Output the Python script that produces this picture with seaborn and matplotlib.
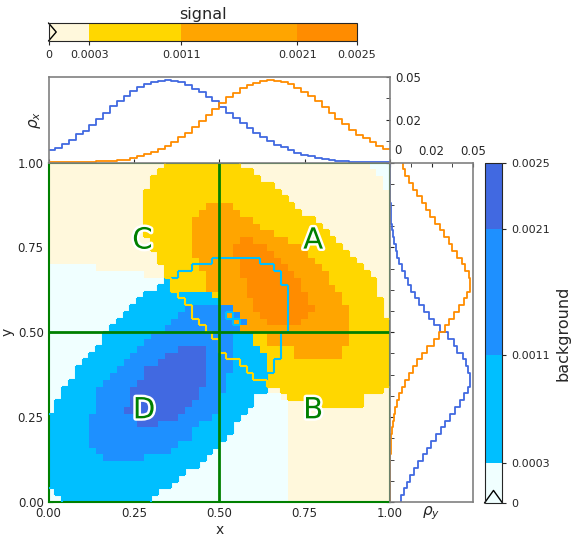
import numpy as np
import matplotlib
matplotlib.use("Agg")
import matplotlib.pyplot as plt
import matplotlib.patheffects as pe
from matplotlib.colors import ListedColormap, BoundaryNorm
from matplotlib.cm import ScalarMappable
from matplotlib.collections import LineCollection
from matplotlib.transforms import offset_copy
import seaborn as sns

# colours of the four density levels for each class
signal_colors = ["cornsilk", "gold", "orange", "darkorange"]
background_colors = ["azure", "deepskyblue", "dodgerblue", "royalblue"]

signal_levels = [0, 0.000332, 0.001076, 0.002015, 0.0025]
signal_level_labels = ["0", "0.0003", "0.0011", "0.0021", "0.0025"]
background_levels = [0, 0.000294, 0.001088, 0.002015, 0.0025]
background_level_labels = ["0", "0.0003", "0.0011", "0.0021", "0.0025"]

# level map, one run-length row per cell row (top first)
# c g o d = signal levels 0-3, w s b r = background levels 0-3
# upper case = the hidden class is also above its lowest level there
level_rows = [
    "c17 g11 c19 w3",
    "c16 g14 c18 w2",
    "c15 g16 c18 w1",
    "c15 g18 c16 w1",
    "c14 g20 c16",
    "c14 g21 c15",
    "c14 g9 o4 g9 c14",
    "c14 g8 o6 g9 c13",
    "c14 g7 o9 g9 c11",
    "c14 g7 o10 g9 c10",
    "c14 g7 o12 g8 c9",
    "c15 g6 o7 d2 o5 g7 c8",
    "c15 g6 o6 d5 o5 g6 c7",
    "c16 g5 o6 d6 o5 g6 c6",
    "c16 g6 o2 O4 D3 d3 o5 g6 c5",
    "w7 c10 g4 G1 O6 D5 d2 o5 g6 c4",
    "w14 c3 g2 G4 O5 D6 d2 o5 g6 c3",
    "w17 s1 G5 O6 D5 d3 o4 g7 c2",
    "w16 s2 G5 O6 D6 d2 o5 g6 c2",
    "w14 s5 S5 G1 O4 D6 d3 o5 g5 c2",
    "w13 s7 S5 O5 D5 d3 o5 g6 c1",
    "w12 s8 b1 B6 O3 D5 d4 o5 g5 c1",
    "w11 s8 b2 B5 o1 B1 O3 D4 d3 o6 g5 c1",
    "w10 s8 b4 B5 o1 B1 O3 D3 d2 o7 g6",
    "w9 s8 b6 B5 O7 o9 g6",
    "w8 s7 b9 B3 S3 G2 O2 o10 g6",
    "w8 s6 b11 B2 S3 G2 O2 o10 g6",
    "w7 s6 b6 r4 b2 B2 S4 G3 g2 o7 g7",
    "w6 s6 b5 r6 b3 B1 S5 G2 g2 o7 g7",
    "w5 s6 b5 r7 b4 s1 S4 G1 g17",
    "w4 s6 b4 r9 b4 s2 S3 G1 g17",
    "w4 s5 b5 r9 b3 s4 S2 g18",
    "w3 s5 b5 r10 b3 s6 g18",
    "w2 s5 b5 r10 b4 s6 c2 g15 c1",
    "w2 s5 b5 r10 b3 s5 w4 c1 g11 c4",
    "w1 s6 b5 r9 b4 s5 w5 c5 g6 c4",
    "w1 s6 b4 r9 b5 s4 w6 c15",
    "s6 b7 r6 b5 s4 w7 c15",
    "s6 b7 r3 b6 s5 w8 c15",
    "s6 b15 s6 w8 c15",
    "s6 b15 s5 w9 c15",
    "s6 b13 s6 w10 c15",
    "s7 b11 s6 w11 c15",
    "s8 b6 s9 w12 c15",
    "s22 w13 c15",
    "s20 w15 c15",
    "s19 w16 c15",
    "s18 w17 c15",
    "w1 s15 w19 c15",
    "w2 s13 w20 c15",
]

# marginal densities per bin of width 0.02 (bin 0 at x=0 / y=0)
rho_x_background = [
    0.0071, 0.0083, 0.0104, 0.0129, 0.0163, 0.0183, 0.0215, 0.0250, 0.0286, 0.0321,
    0.0354, 0.0379, 0.0407, 0.0432, 0.0450, 0.0461, 0.0469, 0.0471, 0.0469, 0.0461,
    0.0444, 0.0421, 0.0402, 0.0375, 0.0350, 0.0317, 0.0286, 0.0254, 0.0225, 0.0198,
    0.0171, 0.0146, 0.0123, 0.0102, 0.0086, 0.0069, 0.0056, 0.0044, 0.0035, 0.0027,
    0.0019, 0.0013, 0.0010, 0.0006, 0.0004, 0.0002, 0.0001, 0.0001, 0.0001, 0.0001,
]
rho_x_signal = [
    0.0001, 0.0001, 0.0002, 0.0002, 0.0003, 0.0004, 0.0005, 0.0006, 0.0008, 0.0010,
    0.0012, 0.0017, 0.0027, 0.0037, 0.0046, 0.0060, 0.0075, 0.0094, 0.0119, 0.0144,
    0.0171, 0.0206, 0.0240, 0.0273, 0.0306, 0.0340, 0.0373, 0.0398, 0.0425, 0.0444,
    0.0455, 0.0465, 0.0471, 0.0467, 0.0459, 0.0448, 0.0427, 0.0404, 0.0379, 0.0350,
    0.0317, 0.0282, 0.0252, 0.0221, 0.0186, 0.0159, 0.0138, 0.0119, 0.0096, 0.0077,
]
rho_y_background = [
    0.0065, 0.0083, 0.0098, 0.0118, 0.0144, 0.0167, 0.0193, 0.0216, 0.0242, 0.0272,
    0.0299, 0.0327, 0.0356, 0.0382, 0.0413, 0.0435, 0.0460, 0.0472, 0.0470, 0.0459,
    0.0447, 0.0429, 0.0397, 0.0378, 0.0341, 0.0295, 0.0260, 0.0232, 0.0201, 0.0173,
    0.0146, 0.0124, 0.0106, 0.0089, 0.0071, 0.0055, 0.0043, 0.0034, 0.0024, 0.0016,
    0.0010, 0.0006, 0.0004, 0.0003, 0.0002, 0.0001, 0.0001, 0.0, 0.0, 0.0,
]
rho_y_signal = [
    0.0, 0.0, 0.0, 0.0, 0.0001, 0.0001, 0.0002, 0.0003, 0.0004, 0.0008,
    0.0014, 0.0020, 0.0025, 0.0031, 0.0043, 0.0053, 0.0071, 0.0089, 0.0110, 0.0138,
    0.0159, 0.0191, 0.0220, 0.0260, 0.0287, 0.0325, 0.0350, 0.0378, 0.0409, 0.0437,
    0.0457, 0.0470, 0.0472, 0.0464, 0.0445, 0.0423, 0.0397, 0.0364, 0.0346, 0.0321,
    0.0295, 0.0264, 0.0236, 0.0211, 0.0187, 0.0161, 0.0138, 0.0114, 0.0089, 0.0075,
]

region_labels = ["A", "B", "C", "D"]
region_x = [0.775, 0.775, 0.275, 0.28]
region_y = [0.77, 0.27, 0.77, 0.27]

cut_x = 0.5
cut_y = 0.5
rho_max = 0.049


def decode(rows):
    letters = "cgodwsbr"
    codes, hidden = [], []
    for row in rows:
        c_row, h_row = [], []
        for tok in row.split():
            ch, n = tok[0], int(tok[1:])
            c_row += [letters.index(ch.lower())] * n
            h_row += [ch.isupper()] * n
        codes.append(c_row)
        hidden.append(h_row)
    return np.array(codes), np.array(hidden)


def mask_edges(mask):
    """Cell edges between cells inside and outside a boolean mask."""
    segs = []
    for r, c in zip(*np.nonzero(mask[:, 1:] != mask[:, :-1])):
        segs.append([(c + 1, r), (c + 1, r + 1)])
    for r, c in zip(*np.nonzero(mask[1:, :] != mask[:-1, :])):
        segs.append([(c, r + 1), (c + 1, r + 1)])
    return segs


codes, hidden = decode(level_rows)
n_rows, n_cols = codes.shape
is_signal = codes < 4
signal_mask = (is_signal & (codes >= 1)) | (~is_signal & hidden)
background_mask = (~is_signal & (codes >= 5)) | (is_signal & hidden)

sns.set_style("ticks")
plt.rcParams["font.family"] = ["DejaVu Sans"]
plt.rcParams["xtick.labelsize"] = 8.5
plt.rcParams["ytick.labelsize"] = 8.5

W, H = 571, 540
fig = plt.figure(figsize=(W / 100, H / 100), dpi=100)


def box(x0, y0, x1, y1):
    # pixel box (top-left origin) -> figure fraction rect
    return [x0 / W, (H - y1) / H, (x1 - x0) / W, (y1 - y0) / H]


ax = fig.add_axes(box(48.5, 162.5, 390, 502))
ax_top = fig.add_axes(box(48.5, 77, 390, 162.5))
ax_right = fig.add_axes(box(390, 162.5, 473, 502))
cax_top = fig.add_axes(box(48.5, 23, 357, 41))
cax_right = fig.add_axes(box(484.5, 163, 502.5, 503))

# --------------------------
# main level map
# --------------------------
cmap = ListedColormap(signal_colors + background_colors)
sns.heatmap(codes, ax=ax, cmap=cmap, vmin=-0.5, vmax=7.5, cbar=False,
            xticklabels=False, yticklabels=False)

ax.add_collection(LineCollection(mask_edges(background_mask), colors="deepskyblue",
                                 linewidths=1.5, zorder=3))
ax.add_collection(LineCollection(mask_edges(signal_mask), colors="gold",
                                 linewidths=1.5, zorder=3))

ax.axvline(cut_x * n_cols, color="green", lw=2, zorder=4)
ax.axhline((1 - cut_y) * n_rows, color="green", lw=2, zorder=4)

for lab, lx, ly in zip(region_labels, region_x, region_y):
    ax.text(lx * n_cols, (1 - ly) * n_rows, lab, color="green", fontsize=21,
            ha="center", va="center", zorder=5,
            path_effects=[pe.withStroke(linewidth=3.5, foreground="white")])

tick_vals = np.linspace(0, 1, 5)
ax.set_xticks(tick_vals * n_cols)
ax.set_xticklabels([f"{v:.2f}" for v in tick_vals], rotation=0)
ax.set_yticks((1 - tick_vals) * n_rows)
ax.set_yticklabels([f"{v:.2f}" for v in tick_vals], rotation=0)
ax.set_xticks(np.linspace(0, n_cols, 17), minor=True)
ax.set_yticks(np.linspace(0, n_rows, 17), minor=True)
ax.tick_params(which="both", direction="in", top=True, right=True, length=3)
ax.tick_params(which="minor", length=2)
ax.set_xlim(0, n_cols)
ax.set_ylim(n_rows, 0)
ax.set_xlabel("x", fontsize=10, labelpad=2)
ax.set_ylabel("y", fontsize=10, labelpad=2)
for sp in ax.spines.values():
    sp.set_visible(True)
    sp.set_color("green")
    sp.set_linewidth(1.5)

# --------------------------
# marginals
# --------------------------
edges = list(np.linspace(0, 1, 51))
centers = [(a + b) / 2 for a, b in zip(edges[:-1], edges[1:])]

sns.histplot(x=centers, weights=rho_x_background, bins=edges, element="step",
             fill=False, color="royalblue", lw=1.3, ax=ax_top)
sns.histplot(x=centers, weights=rho_x_signal, bins=edges, element="step",
             fill=False, color="darkorange", lw=1.3, ax=ax_top)
ax_top.set_xlim(0, 1)
ax_top.set_ylim(0, rho_max)
ax_top.yaxis.tick_right()
ax_top.set_yticks([0, rho_max / 2, rho_max])
ax_top.set_yticklabels(["", "0.02", "0.05"])
ax_top.set_yticks([rho_max / 4, 3 * rho_max / 4], minor=True)
ax_top.set_xticks(tick_vals)
ax_top.set_xticklabels([])
ax_top.tick_params(which="both", direction="in", length=3)
ax_top.set_xlabel("")
ax_top.set_ylabel(r"$\rho_x$", fontsize=11)

sns.histplot(y=centers, weights=rho_y_background, bins=edges, element="step",
             fill=False, color="royalblue", lw=1.3, ax=ax_right)
sns.histplot(y=centers, weights=rho_y_signal, bins=edges, element="step",
             fill=False, color="darkorange", lw=1.3, ax=ax_right)
ax_right.set_ylim(0, 1)
ax_right.set_xlim(0, rho_max)
ax_right.xaxis.tick_top()
ax_right.set_xticks([0, rho_max / 2, rho_max])
ax_right.set_xticklabels(["", "0.02", "0.05"])
ax_right.set_xticks([rho_max / 4, 3 * rho_max / 4], minor=True)
ax_right.set_yticks(tick_vals)
ax_right.set_yticks(np.linspace(0, 1, 17), minor=True)
ax_right.set_yticklabels([])
ax_right.tick_params(which="both", direction="in", length=3)
ax_right.xaxis.set_label_position("bottom")
ax_right.set_xlabel(r"$\rho_y$", fontsize=11, labelpad=2)
ax_right.set_ylabel("")
# the zero label sits just right of the corner shared by both marginals
ax_right.text(0, 1, "0", fontsize=8.5, ha="left", va="bottom",
              transform=offset_copy(ax_right.transAxes, fig=fig, x=4, y=5, units="dots"))

for a in (ax_top, ax_right):
    for sp in a.spines.values():
        sp.set_visible(True)
        sp.set_color("gray")
        sp.set_linewidth(1.2)

# --------------------------
# colour bars
# --------------------------
sm_sig = ScalarMappable(norm=BoundaryNorm(signal_levels, len(signal_colors)),
                        cmap=ListedColormap(signal_colors))
cb_sig = fig.colorbar(sm_sig, cax=cax_top, orientation="horizontal",
                      ticks=signal_levels, spacing="proportional")
cb_sig.set_ticklabels(signal_level_labels)
cax_top.tick_params(direction="out", length=3, labelsize=8)
cax_top.set_title("signal", fontsize=11.5, pad=3)
cax_top.plot([0, 0.025, 0], [1, 0.5, 0], transform=cax_top.transAxes,
             color="black", lw=1, clip_on=False)

sm_bkg = ScalarMappable(norm=BoundaryNorm(background_levels, len(background_colors)),
                        cmap=ListedColormap(background_colors))
cb_bkg = fig.colorbar(sm_bkg, cax=cax_right, orientation="vertical",
                      ticks=background_levels, spacing="proportional")
cb_bkg.set_ticklabels(background_level_labels)
cax_right.tick_params(direction="out", length=3, labelsize=8)
cb_bkg.set_label("background", fontsize=11.5)
cax_right.plot([0, 0.5, 1], [0, 0.037, 0], transform=cax_right.transAxes,
               color="black", lw=1, clip_on=False)

fig.savefig("out.png", dpi=100)
